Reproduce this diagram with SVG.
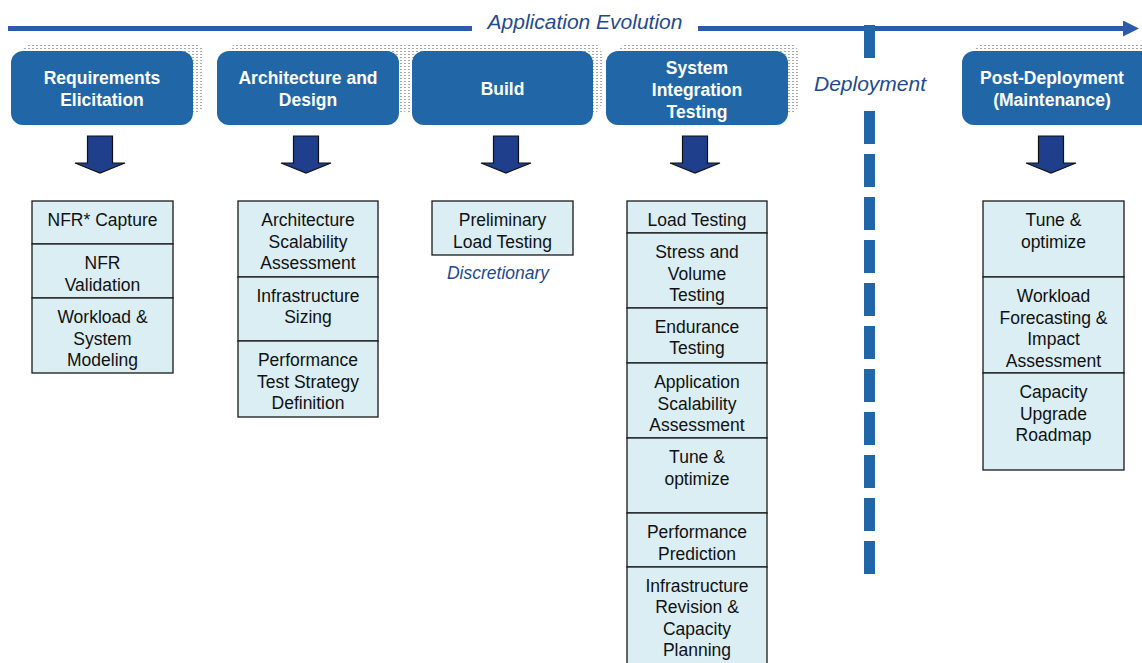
<svg xmlns="http://www.w3.org/2000/svg" width="1142" height="663" viewBox="0 0 1142 663">
<style>
.hdr{fill:#2167a8}
.hdrt{fill:#fff;font-family:"Liberation Sans",Arial,sans-serif;font-weight:bold;font-size:17.5px;text-anchor:middle}
.cell{fill:#daeef3;stroke:#1a1a1a;stroke-width:1.3}
.ct{fill:#111;font-family:"Liberation Sans",Arial,sans-serif;font-size:17.5px;text-anchor:middle}
.it{fill:#1f4a8f;font-family:"Liberation Sans",Arial,sans-serif;font-style:italic;text-anchor:middle}
.sh{fill:url(#dots)}
.darr{fill:#1f3f8c;stroke:#111;stroke-width:1.2}
</style>
<defs>
<pattern id="dots" width="4" height="3" patternUnits="userSpaceOnUse">
<rect x="0" y="0" width="2" height="1" fill="#a8a8a8"/>
</pattern>
<path id="dn" d="M-12.5,136 H12.5 V163 H25 L0,173 L-25,163 H-12.5 Z"/>
<marker id="ah" viewBox="0 0 16 16" refX="0" refY="8" markerWidth="16" markerHeight="16" markerUnits="userSpaceOnUse" orient="auto"><path d="M0,0 L16,8 L0,16 Z" fill="#2b5aab"/></marker>
</defs>
<rect width="1142" height="663" fill="#fff"/>

<g id="timeline">
<line x1="8" y1="28.5" x2="472" y2="28.5" stroke="#2b5aab" stroke-width="5"/>
<line x1="698" y1="28.5" x2="1123" y2="28.5" stroke="#2b5aab" stroke-width="5" marker-end="url(#ah)"/>
<text class="it" x="585" y="29" font-size="21">Application Evolution</text>
</g>

<g id="deployment">
<line x1="869.5" y1="25" x2="869.5" y2="58" stroke="#2167a8" stroke-width="11"/>
<line x1="869.5" y1="111" x2="869.5" y2="575" stroke="#2167a8" stroke-width="11" stroke-dasharray="33 10"/>
<text class="it" x="870" y="91" font-size="21">Deployment</text>
</g>

<g id="h1">
<rect class="sh" x="22" y="43" width="182" height="71" rx="12"/>
<rect class="hdr" x="11" y="51" width="182" height="74" rx="12"/>
<text class="hdrt" x="102" y="84">Requirements</text>
<text class="hdrt" x="102" y="106">Elicitation</text>
</g>
<g id="h2">
<rect class="sh" x="228" y="43" width="182" height="71" rx="12"/>
<rect class="hdr" x="217" y="51" width="182" height="74" rx="12"/>
<text class="hdrt" x="308" y="84">Architecture and</text>
<text class="hdrt" x="308" y="106">Design</text>
</g>
<g id="h3">
<rect class="sh" x="402" y="43" width="200" height="71" rx="12"/>
<rect class="hdr" x="412" y="51" width="181" height="74" rx="12"/>
<text class="hdrt" x="502.5" y="95">Build</text>
</g>
<g id="h4">
<rect class="sh" x="617" y="43" width="182" height="71" rx="12"/>
<rect class="hdr" x="606" y="51" width="182" height="74" rx="12"/>
<text class="hdrt" x="697" y="74">System</text>
<text class="hdrt" x="697" y="96">Integration</text>
<text class="hdrt" x="697" y="118">Testing</text>
</g>
<g id="h5">
<rect class="sh" x="973" y="43" width="182" height="71" rx="12"/>
<rect class="hdr" x="962" y="51" width="192" height="74" rx="12"/>
<text class="hdrt" x="1052" y="84">Post-Deployment</text>
<text class="hdrt" x="1052" y="106">(Maintenance)</text>
</g>

<g id="connectors">
<use href="#dn" class="darr" x="100"/>
<use href="#dn" class="darr" x="306"/>
<use href="#dn" class="darr" x="506"/>
<use href="#dn" class="darr" x="695"/>
<use href="#dn" class="darr" x="1051"/>
</g>

<g id="c1">
<rect class="cell" x="32" y="201" width="141" height="43"/>
<rect class="cell" x="32" y="244" width="141" height="54"/>
<rect class="cell" x="32" y="298" width="141" height="75"/>
<text class="ct" x="102.5" y="226">NFR* Capture</text>
<text class="ct" x="102.5" y="269">NFR</text>
<text class="ct" x="102.5" y="291">Validation</text>
<text class="ct" x="102.5" y="323">Workload &amp;</text>
<text class="ct" x="102.5" y="345">System</text>
<text class="ct" x="102.5" y="366">Modeling</text>
</g>

<g id="c2">
<rect class="cell" x="238" y="201" width="140" height="76"/>
<rect class="cell" x="238" y="277" width="140" height="64"/>
<rect class="cell" x="238" y="341" width="140" height="76"/>
<text class="ct" x="308" y="226">Architecture</text>
<text class="ct" x="308" y="248">Scalability</text>
<text class="ct" x="308" y="269">Assessment</text>
<text class="ct" x="308" y="302">Infrastructure</text>
<text class="ct" x="308" y="323">Sizing</text>
<text class="ct" x="308" y="366">Performance</text>
<text class="ct" x="308" y="388">Test Strategy</text>
<text class="ct" x="308" y="409">Definition</text>
</g>

<g id="c3">
<rect class="cell" x="432" y="201" width="141" height="54"/>
<text class="ct" x="502.5" y="226">Preliminary</text>
<text class="ct" x="502.5" y="248">Load Testing</text>
<text class="it" x="498" y="279" font-size="17.5">Discretionary</text>
</g>

<g id="c4">
<rect class="cell" x="627" y="201" width="140" height="32"/>
<rect class="cell" x="627" y="233" width="140" height="75"/>
<rect class="cell" x="627" y="308" width="140" height="55"/>
<rect class="cell" x="627" y="363" width="140" height="75"/>
<rect class="cell" x="627" y="438" width="140" height="75"/>
<rect class="cell" x="627" y="513" width="140" height="54"/>
<rect class="cell" x="627" y="567" width="140" height="110"/>
<text class="ct" x="697" y="226">Load Testing</text>
<text class="ct" x="697" y="258">Stress and</text>
<text class="ct" x="697" y="280">Volume</text>
<text class="ct" x="697" y="301">Testing</text>
<text class="ct" x="697" y="333">Endurance</text>
<text class="ct" x="697" y="354">Testing</text>
<text class="ct" x="697" y="388">Application</text>
<text class="ct" x="697" y="410">Scalability</text>
<text class="ct" x="697" y="431">Assessment</text>
<text class="ct" x="697" y="463">Tune &amp;</text>
<text class="ct" x="697" y="485">optimize</text>
<text class="ct" x="697" y="538">Performance</text>
<text class="ct" x="697" y="560">Prediction</text>
<text class="ct" x="697" y="592">Infrastructure</text>
<text class="ct" x="697" y="613">Revision &amp;</text>
<text class="ct" x="697" y="635">Capacity</text>
<text class="ct" x="697" y="656">Planning</text>
</g>

<g id="c5">
<rect class="cell" x="983" y="201" width="141" height="76"/>
<rect class="cell" x="983" y="277" width="141" height="96"/>
<rect class="cell" x="983" y="373" width="141" height="97"/>
<text class="ct" x="1053.5" y="226">Tune &amp;</text>
<text class="ct" x="1053.5" y="248">optimize</text>
<text class="ct" x="1053.5" y="302">Workload</text>
<text class="ct" x="1053.5" y="324">Forecasting &amp;</text>
<text class="ct" x="1053.5" y="345">Impact</text>
<text class="ct" x="1053.5" y="367">Assessment</text>
<text class="ct" x="1053.5" y="398">Capacity</text>
<text class="ct" x="1053.5" y="420">Upgrade</text>
<text class="ct" x="1053.5" y="441">Roadmap</text>
</g>
</svg>
